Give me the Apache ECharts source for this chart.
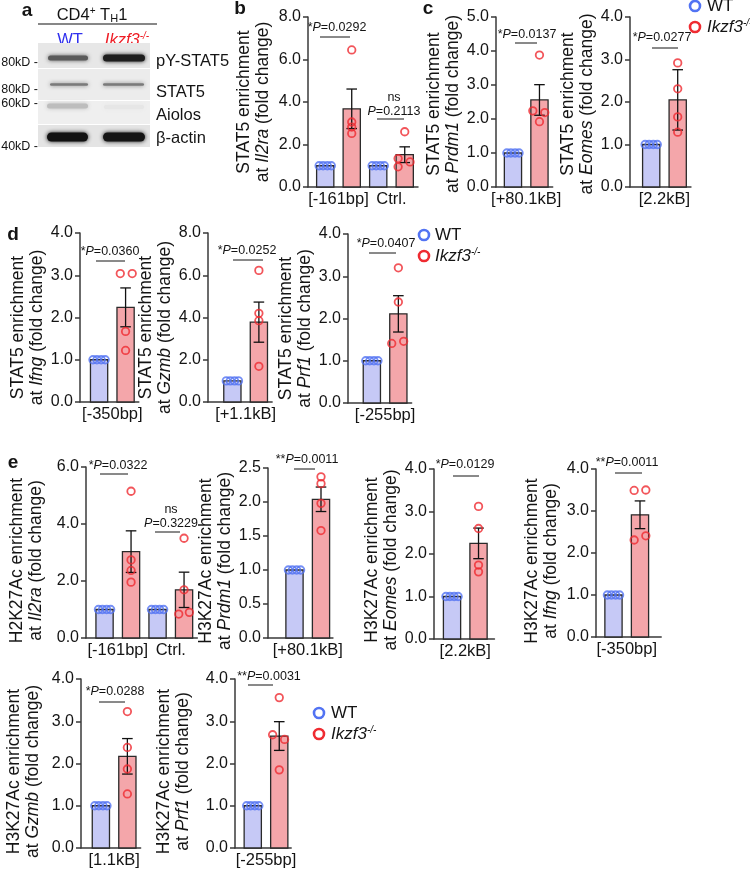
<!DOCTYPE html>
<html><head><meta charset="utf-8">
<script src="https://cdn.jsdelivr.net/npm/echarts@6/dist/echarts.min.js"></script>
<style>html,body{margin:0;padding:0;background:#fff}#c{width:750px;height:870px}</style>
</head><body><div id="c"></div><script>
// ================= DATA =================
// panel b : STAT5 at Il2ra
const b_sites = ['[-161bp]', 'Ctrl.'];
const b_wtMean = [1.0, 1.0];
const b_koMean = [3.68, 1.52];
const b_koSem = [0.93, 0.37];
const b_wtPoints = [[1.0, 1.0, 1.0, 1.0], [1.0, 1.0, 1.0, 1.0]];
const b_koPoints = [[6.45, 3.06, 2.82, 2.52], [2.6, 1.34, 1.18, 0.95]];
const b_yTicks = [0, 2, 4, 6, 8];
const b_pText = ['*P=0.0292', 'ns P=0.2113'];
// panel c1 : STAT5 at Prdm1
const c1_sites = ['[+80.1kB]'];
const c1_wtMean = [1.0];
const c1_koMean = [2.56];
const c1_koSem = [0.45];
const c1_wtPoints = [[1.0, 1.0, 1.0, 1.0]];
const c1_koPoints = [[3.88, 2.24, 2.19, 1.92]];
const c1_yTicks = [0, 1, 2, 3, 4, 5];
const c1_pText = ['*P=0.0137'];
// panel c2 : STAT5 at Eomes
const c2_sites = ['[2.2kB]'];
const c2_wtMean = [1.0];
const c2_koMean = [2.05];
const c2_koSem = [0.71];
const c2_wtPoints = [[1.0, 1.0, 1.0, 1.0]];
const c2_koPoints = [[2.92, 2.31, 1.65, 1.29]];
const c2_yTicks = [0, 1, 2, 3, 4];
const c2_pText = ['*P=0.0277'];
// panel d1 : STAT5 at Ifng
const d1_sites = ['[-350bp]'];
const d1_wtMean = [1.0];
const d1_koMean = [2.24];
const d1_koSem = [0.46];
const d1_wtPoints = [[1.0, 1.0, 1.0, 1.0]];
const d1_koPoints = [[3.04, 3.04, 1.67, 1.22]];
const d1_yTicks = [0, 1, 2, 3, 4];
const d1_pText = ['*P=0.0360'];
// panel d2 : STAT5 at Gzmb
const d2_sites = ['[+1.1kB]'];
const d2_wtMean = [1.0];
const d2_koMean = [3.78];
const d2_koSem = [0.95];
const d2_wtPoints = [[1.0, 1.0, 1.0, 1.0]];
const d2_koPoints = [[6.23, 4.2, 3.85, 1.69]];
const d2_yTicks = [0, 2, 4, 6, 8];
const d2_pText = ['*P=0.0252'];
// panel d3 : STAT5 at Prf1
const d3_sites = ['[-255bp]'];
const d3_wtMean = [1.0];
const d3_koMean = [2.11];
const d3_koSem = [0.43];
const d3_wtPoints = [[1.0, 1.0, 1.0, 1.0]];
const d3_koPoints = [[3.2, 2.39, 1.41, 1.46]];
const d3_yTicks = [0, 1, 2, 3, 4];
const d3_pText = ['*P=0.0407'];
// panel e1 : H2K27Ac at Il2ra
const e1_sites = ['[-161bp]', 'Ctrl.'];
const e1_wtMean = [1.0, 1.0];
const e1_koMean = [3.03, 1.69];
const e1_koSem = [0.73, 0.62];
const e1_wtPoints = [[1.0, 1.0, 1.0, 1.0], [1.0, 1.0, 1.0, 1.0]];
const e1_koPoints = [[5.15, 2.74, 2.37, 1.96], [3.5, 1.69, 0.84, 0.9]];
const e1_yTicks = [0, 2, 4, 6];
const e1_pText = ['*P=0.0322', 'ns P=0.3229'];
// panel e2 : H3K27Ac at Prdm1
const e2_sites = ['[+80.1kB]'];
const e2_wtMean = [1.0];
const e2_koMean = [2.04];
const e2_koSem = [0.18];
const e2_wtPoints = [[1.0, 1.0, 1.0, 1.0]];
const e2_koPoints = [[2.37, 2.27, 1.98, 1.58]];
const e2_yTicks = [0, 0.5, 1.0, 1.5, 2.0, 2.5];
const e2_pText = ['**P=0.0011'];
// panel e3 : H3K27Ac at Eomes
const e3_sites = ['[2.2kB]'];
const e3_wtMean = [1.0];
const e3_koMean = [2.25];
const e3_koSem = [0.36];
const e3_wtPoints = [[1.0, 1.0, 1.0, 1.0]];
const e3_koPoints = [[3.12, 2.6, 1.74, 1.58]];
const e3_yTicks = [0, 1, 2, 3, 4];
const e3_pText = ['*P=0.0129'];
// panel e4 : H3K27Ac at Ifng
const e4_sites = ['[-350bp]'];
const e4_wtMean = [1.0];
const e4_koMean = [2.91];
const e4_koSem = [0.33];
const e4_wtPoints = [[1.0, 1.0, 1.0, 1.0]];
const e4_koPoints = [[3.49, 3.5, 2.31, 2.41]];
const e4_yTicks = [0, 1, 2, 3, 4];
const e4_pText = ['**P=0.0011'];
// panel e5 : H3K27Ac at Gzmb
const e5_sites = ['[1.1kB]'];
const e5_wtMean = [1.0];
const e5_koMean = [2.17];
const e5_koSem = [0.42];
const e5_wtPoints = [[1.0, 1.0, 1.0, 1.0]];
const e5_koPoints = [[3.23, 2.38, 1.87, 1.28]];
const e5_yTicks = [0, 1, 2, 3, 4];
const e5_pText = ['*P=0.0288'];
// panel e6 : H3K27Ac at Prf1
const e6_sites = ['[-255bp]'];
const e6_wtMean = [1.0];
const e6_koMean = [2.65];
const e6_koSem = [0.34];
const e6_wtPoints = [[1.0, 1.0, 1.0, 1.0]];
const e6_koPoints = [[3.56, 2.68, 2.57, 1.85]];
const e6_yTicks = [0, 1, 2, 3, 4];
const e6_pText = ['**P=0.0031'];
// legend / western blot labels
const groupNames = ['WT', 'Ikzf3'];
const blotProteins = ['pY-STAT5', 'STAT5', 'Aiolos', 'β-actin'];
const blotMarkers = ['80kD', '80kD', '60kD', '40kD'];

// ================= STYLE / LAYOUT =================
const FONT = '"Liberation Sans", Arial, Helvetica, sans-serif';
const TXT = '#141414';
const AX = '#3a3a3a';
const WT_FILL = '#c6c9f6';
const KO_FILL = '#f4a6aa';
const WT_DOT = '#5273f3';
const KO_DOT = '#ef2b31';
const U = 26.5; // px per x unit
const TICK_FS = 16, CAT_FS = 16.5, NAME_FS = 17.5, P_FS = 12.5;

function nm(pre, gene) { return pre + ' enrichment\nat {i|' + gene + '} (fold change)'; }

const panels = [
  {d: {sites: b_sites, wt: b_wtMean, ko: b_koMean, sem: b_koSem, wtP: b_wtPoints, koP: b_koPoints, ticks: b_yTicks, p: b_pText, name: nm('STAT5', 'Il2ra')},
   L: {ax: 308, top: 17, bot: 187, xMin: -0.65, xMax: 3.5, gap: 35, sh: 0, jit: [[0, 0, 0, 0], [0, -0.25, 0.2, -0.25]],
       pa: [{cx: 337, y: 28, l1: 320, l2: 350, ly: 37}, {cx: 394, y: 112, ny: 98, l1: 377, l2: 404, ly: 119}]}},
  {d: {sites: c1_sites, wt: c1_wtMean, ko: c1_koMean, sem: c1_koSem, wtP: c1_wtPoints, koP: c1_koPoints, ticks: c1_yTicks, p: c1_pText, name: nm('STAT5', 'Prdm1')},
   L: {ax: 496, top: 17, bot: 187, xMin: -0.64, xMax: 1.5, gap: 31, sh: 2, jit: [[0, -0.25, 0.2, 0]],
       pa: [{cx: 527, y: 35, l1: 515, l2: 537, ly: 43}]}},
  {d: {sites: c2_sites, wt: c2_wtMean, ko: c2_koMean, sem: c2_koSem, wtP: c2_wtPoints, koP: c2_koPoints, ticks: c2_yTicks, p: c2_pText, name: nm('STAT5', 'Eomes')},
   L: {ax: 630, top: 17, bot: 187, xMin: -0.8, xMax: 1.5, gap: 30, sh: 2, jit: [[0, 0, 0, 0]],
       pa: [{cx: 662, y: 38, l1: 652, l2: 678, ly: 48}]}},
  {d: {sites: d1_sites, wt: d1_wtMean, ko: d1_koMean, sem: d1_koSem, wtP: d1_wtPoints, koP: d1_koPoints, ticks: d1_yTicks, p: d1_pText, name: nm('STAT5', 'Ifng')},
   L: {ax: 80, top: 233, bot: 402, xMin: -0.72, xMax: 1.5, gap: 30, sh: 10, jit: [[-0.2, 0.25, 0, 0]],
       pa: [{cx: 110, y: 252, l1: 96, l2: 125, ly: 261}]}},
  {d: {sites: d2_sites, wt: d2_wtMean, ko: d2_koMean, sem: d2_koSem, wtP: d2_wtPoints, koP: d2_koPoints, ticks: d2_yTicks, p: d2_pText, name: nm('STAT5', 'Gzmb')},
   L: {ax: 208, top: 233, bot: 402, xMin: -0.92, xMax: 1.5, gap: 30, sh: 10, jit: [[0, 0, 0, 0]],
       pa: [{cx: 247, y: 251, l1: 233, l2: 263, ly: 260}]}},
  {d: {sites: d3_sites, wt: d3_wtMean, ko: d3_koMean, sem: d3_koSem, wtP: d3_wtPoints, koP: d3_koPoints, ticks: d3_yTicks, p: d3_pText, name: nm('STAT5', 'Prf1')},
   L: {ax: 348, top: 234, bot: 403, xMin: -0.9, xMax: 1.5, gap: 32, sh: 10, jit: [[0, 0, -0.25, 0.2]],
       pa: [{cx: 386, y: 244, l1: 369, l2: 396, ly: 253}]}},
  {d: {sites: e1_sites, wt: e1_wtMean, ko: e1_koMean, sem: e1_koSem, wtP: e1_wtPoints, koP: e1_koPoints, ticks: e1_yTicks, p: e1_pText, name: nm('H2K27Ac', 'Il2ra')},
   L: {ax: 86, top: 467, bot: 638, xMin: -0.7, xMax: 3.5, gap: 40, sh: 8, jit: [[0, 0, 0, 0], [0, 0, -0.2, 0.2]],
       pa: [{cx: 118, y: 466, l1: 100, l2: 128, ly: 474}, {cx: 171, y: 524, ny: 510, l1: 155, l2: 180, ly: 532}]}},
  {d: {sites: e2_sites, wt: e2_wtMean, ko: e2_koMean, sem: e2_koSem, wtP: e2_wtPoints, koP: e2_koPoints, ticks: e2_yTicks, p: e2_pText, name: nm('H3K27Ac', 'Prdm1')},
   L: {ax: 268, top: 468, bot: 638, xMin: -1.0, xMax: 1.45, gap: 23, sh: 8, jit: [[0, 0, 0, 0]],
       pa: [{cx: 307, y: 460, l1: 294, l2: 315, ly: 469}]}},
  {d: {sites: e3_sites, wt: e3_wtMean, ko: e3_koMean, sem: e3_koSem, wtP: e3_wtPoints, koP: e3_koPoints, ticks: e3_yTicks, p: e3_pText, name: nm('H3K27Ac', 'Eomes')},
   L: {ax: 434, top: 469, bot: 639, xMin: -0.68, xMax: 1.6, gap: 29, sh: 6, jit: [[0, 0, 0, 0]],
       pa: [{cx: 465, y: 465, l1: 453, l2: 479, ly: 476}]}},
  {d: {sites: e4_sites, wt: e4_wtMean, ko: e4_koMean, sem: e4_koSem, wtP: e4_wtPoints, koP: e4_koPoints, ticks: e4_yTicks, p: e4_pText, name: nm('H3K27Ac', 'Ifng')},
   L: {ax: 596, top: 469, bot: 637, xMin: -0.66, xMax: 1.8, gap: 35, sh: 8, jit: [[-0.22, 0.22, -0.22, 0.22]],
       pa: [{cx: 627, y: 463, l1: 615, l2: 642, ly: 473}]}},
  {d: {sites: e5_sites, wt: e5_wtMean, ko: e5_koMean, sem: e5_koSem, wtP: e5_wtPoints, koP: e5_koPoints, ticks: e5_yTicks, p: e5_pText, name: nm('H3K27Ac', 'Gzmb')},
   L: {ax: 81, top: 679, bot: 848, xMin: -0.75, xMax: 1.5, gap: 38, sh: 8, jit: [[0, 0, 0, 0]],
       pa: [{cx: 115, y: 692, l1: 99, l2: 125, ly: 702}]}},
  {d: {sites: e6_sites, wt: e6_wtMean, ko: e6_koMean, sem: e6_koSem, wtP: e6_wtPoints, koP: e6_koPoints, ticks: e6_yTicks, p: e6_pText, name: nm('H3K27Ac', 'Prf1')},
   L: {ax: 235, top: 679, bot: 848, xMin: -0.67, xMax: 1.45, gap: 42, sh: 8, jit: [[0, -0.25, 0.2, 0]],
       pa: [{cx: 269, y: 677, l1: 248, l2: 273, ly: 685}]}}
];

const WT_OFF = [-0.23, -0.08, 0.08, 0.23];
const option = {animation: false, grid: [], xAxis: [], yAxis: [], series: [], graphic: []};
const G = option.graphic;

const pRich = {
  n: {fontSize: P_FS, fontFamily: FONT, fill: TXT, color: TXT},
  i: {fontSize: P_FS, fontFamily: FONT, fontStyle: 'italic', fill: TXT, color: TXT}
};
function txt(x, y, text, o) {
  o = o || {};
  const st = Object.assign({text: text, fontSize: 12, fontFamily: FONT, fill: TXT,
    align: 'center', verticalAlign: 'middle', textAlign: 'center', textVerticalAlign: 'middle'}, o);
  if (o.align) st.textAlign = o.align;
  if (o.verticalAlign) st.textVerticalAlign = o.verticalAlign;
  G.push({type: 'text', x: x, y: y, silent: true, style: st});
}
function ln(x1, y1, x2, y2, c, w) {
  G.push({type: 'line', silent: true, shape: {x1: x1, y1: y1, x2: x2, y2: y2}, style: {stroke: c || TXT, lineWidth: w || 1}});
}

panels.forEach((P, i) => {
  const d = P.d, L = P.L;
  const ticks = d.ticks;
  option.grid.push({left: L.ax, top: L.top, height: L.bot - L.top, width: (L.xMax - L.xMin) * U,
    outerBoundsMode: 'none', containLabel: false});
  option.xAxis.push({
    gridIndex: i, type: 'value', min: L.xMin, max: L.xMax,
    axisLine: {show: true, onZero: false, lineStyle: {color: AX, width: 1.5}},
    axisTick: {show: false}, splitLine: {show: false},
    axisLabel: {
      customValues: d.sites.map((s, g) => 2 * g + 0.5),
      formatter: v => { const g = (v - 0.5) / 2; return (Number.isInteger(g) && d.sites[g]) ? d.sites[g] : ''; },
      fontSize: CAT_FS, fontFamily: FONT, color: TXT, margin: 4
    }
  });
  option.yAxis.push({
    gridIndex: i, type: 'value', min: ticks[0], max: ticks[ticks.length - 1], interval: ticks[1] - ticks[0],
    axisLine: {show: true, onZero: false, lineStyle: {color: AX, width: 1.5}},
    axisTick: {show: true, length: 5, lineStyle: {color: AX, width: 1.5}},
    splitLine: {show: false},
    axisLabel: {formatter: v => v.toFixed(1), fontSize: TICK_FS, fontFamily: FONT, color: TXT, margin: 7},
    name: d.name, nameLocation: 'middle', nameRotate: 90, nameGap: L.gap,
    nameTextStyle: {fontSize: NAME_FS, fontFamily: FONT, color: TXT, lineHeight: 19,
      padding: [0, 2 * L.sh, 0, 0],
      rich: {i: {fontSize: NAME_FS, fontFamily: FONT, fontStyle: 'italic', color: TXT, lineHeight: 19}}}
  });
  // bars
  const barData = [];
  d.sites.forEach((s, g) => { barData.push([2 * g, d.wt[g], 0]); barData.push([2 * g + 1, d.ko[g], 1]); });
  option.series.push({
    type: 'custom', xAxisIndex: i, yAxisIndex: i, z: 2, silent: true, data: barData,
    encode: {x: 0, y: 1},
    renderItem: (params, api) => {
      const x = api.value(0), v = api.value(1), k = api.value(2);
      const p0 = api.coord([x, 0]), p1 = api.coord([x, v]);
      const w = api.size([0.65, 0])[0];
      return {type: 'rect', shape: {x: p0[0] - w / 2, y: p1[1], width: w, height: p0[1] - p1[1]},
        style: {fill: k ? KO_FILL : WT_FILL, stroke: '#2a2a2a', lineWidth: 1.3}};
    }
  });
  // error bars (SEM)
  const errData = d.sites.map((s, g) => [2 * g + 1, d.ko[g], d.sem[g]]);
  option.series.push({
    type: 'custom', xAxisIndex: i, yAxisIndex: i, z: 3, silent: true, data: errData,
    encode: {x: 0, y: 1},
    renderItem: (params, api) => {
      const x = api.value(0), m = api.value(1), s = api.value(2);
      const hi = api.coord([x, m + s]), lo = api.coord([x, m - s]);
      const cw = api.size([0.4, 0])[0] / 2;
      const st = {stroke: '#111', lineWidth: 1.3};
      return {type: 'group', children: [
        {type: 'line', shape: {x1: hi[0], y1: hi[1], x2: lo[0], y2: lo[1]}, style: st},
        {type: 'line', shape: {x1: hi[0] - cw, y1: hi[1], x2: hi[0] + cw, y2: hi[1]}, style: st},
        {type: 'line', shape: {x1: lo[0] - cw, y1: lo[1], x2: lo[0] + cw, y2: lo[1]}, style: st}
      ]};
    }
  });
  // points
  const wtPts = [], koPts = [];
  d.sites.forEach((s, g) => {
    d.wtP[g].forEach((v, k) => wtPts.push([2 * g + WT_OFF[k], v]));
    d.koP[g].forEach((v, k) => koPts.push([2 * g + 1 + L.jit[g][k], v]));
  });
  [[wtPts, WT_DOT], [koPts, KO_DOT]].forEach(([pts, col]) => {
    option.series.push({
      type: 'scatter', xAxisIndex: i, yAxisIndex: i, z: 4, silent: true, data: pts,
      symbol: 'circle', symbolSize: 7.5,
      itemStyle: {color: 'rgba(255,255,255,0)', borderColor: col, borderWidth: 1.8},
      emphasis: {disabled: true}
    });
  });
  // p-value annotations
  L.pa.forEach((a, k) => {
    const t = d.p[k];
    let rest = t;
    if (t.startsWith('ns ')) { txt(a.cx, a.ny, 'ns', {fontSize: P_FS}); rest = t.slice(3); }
    const m = rest.match(/^(\**)P(=.*)$/);
    txt(a.cx, a.y, '{n|' + m[1] + '}{i|P}{n|' + m[2] + '}', {rich: pRich});
    ln(a.l1, a.ly, a.l2, a.ly, TXT, 1);
  });
});

// panel letters
[['a', 27, 11], ['b', 240, 9], ['c', 428, 9], ['d', 13, 235], ['e', 13, 463]].forEach(([t, x, y]) =>
  txt(x, y, t, {fontSize: 19, fontWeight: 'bold'}));

// legends
const legRich = {
  n: {fontSize: 17, fontFamily: FONT, fill: TXT, color: TXT, lineHeight: 18},
  i: {fontSize: 17, fontFamily: FONT, fontStyle: 'italic', fill: TXT, color: TXT, lineHeight: 18},
  s: {fontSize: 10, fontFamily: FONT, fontStyle: 'italic', fill: TXT, color: TXT, verticalAlign: 'top', lineHeight: 10}
};
[[695, 6, 707], [424, 235, 435], [319, 713, 331]].forEach(([cx, cy, tx]) => {
  G.push({type: 'circle', silent: true, shape: {cx: cx, cy: cy, r: 5}, style: {fill: '#fff', stroke: WT_DOT, lineWidth: 2.6}});
  G.push({type: 'circle', silent: true, shape: {cx: cx, cy: cy + 21, r: 5}, style: {fill: '#fff', stroke: KO_DOT, lineWidth: 2.6}});
  txt(tx, cy, '{n|' + groupNames[0] + '}', {rich: legRich, align: 'left'});
  txt(tx, cy + 21, '{i|' + groupNames[1] + '}{s|-/-}', {rich: legRich, align: 'left'});
});

// ---------- panel a : western blot ----------
txt(92, 15, '{n|CD4}{s|+}{n| T}{b|H}{n|1}', {rich: {
  n: {fontSize: 16.5, fontFamily: FONT, fill: TXT, color: TXT, lineHeight: 18},
  s: {fontSize: 10, fontFamily: FONT, fill: TXT, color: TXT, verticalAlign: 'top', lineHeight: 10},
  b: {fontSize: 11, fontFamily: FONT, fill: TXT, color: TXT, verticalAlign: 'bottom', lineHeight: 11}}});
ln(38, 24, 157, 24, '#111', 1.2);
txt(70, 40, groupNames[0], {fontSize: 16.5, fill: '#3030ee'});
txt(127, 40, '{i|' + groupNames[1] + '}{s|-/-}', {rich: {
  i: {fontSize: 16.5, fontFamily: FONT, fontStyle: 'italic', fill: '#ee1c24', color: '#ee1c24', lineHeight: 17},
  s: {fontSize: 10, fontFamily: FONT, fontStyle: 'italic', fill: '#ee1c24', color: '#ee1c24', verticalAlign: 'top', lineHeight: 10}}});
// strips
[[43, 25, '#e7e7e7'], [69, 31, '#ececec'], [101, 23, '#efefef'], [125, 22, '#e4e4e4']].forEach(([y, h, c]) =>
  G.push({type: 'rect', silent: true, shape: {x: 38, y: y, width: 112, height: h}, style: {fill: c}}));
// bands [x, yCenter, w, h, color]
[[48, 58, 40, 5, '#5a5a5a'], [103, 58, 42, 7, '#1e1e1e'],
 [50, 84.5, 38, 2.5, '#7a7a7a'], [103, 84.5, 41, 2.5, '#7a7a7a'],
 [47, 106, 41, 5, '#bdbdbd'], [104, 107, 40, 4, '#e6e6e6'],
 [47, 137, 41, 9, '#111'], [103, 137, 42, 9, '#151515']].forEach(([x, yc, w, h, c]) =>
  G.push({type: 'rect', silent: true, shape: {x: x, y: yc - h / 2, width: w, height: h, r: h / 2},
    style: {fill: c, shadowBlur: 4, shadowColor: c}}));
blotProteins.forEach((t, k) => txt(156, [61, 92, 115, 138][k], t, {fontSize: 16.5, align: 'left'}));
blotMarkers.forEach((t, k) => txt(38, [63, 90, 104, 147][k], t + ' -', {fontSize: 12.5, align: 'right'}));

const chart = echarts.init(document.getElementById('c'), null, {renderer: 'canvas'});
chart.setOption(option);
</script></body></html>
